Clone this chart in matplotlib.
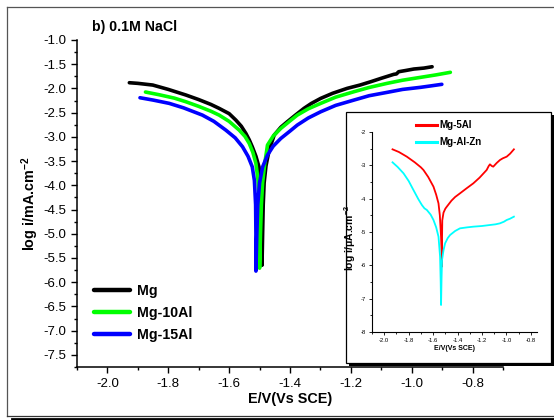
import numpy as np
import matplotlib
matplotlib.use('Agg')
import matplotlib.pyplot as plt
from matplotlib.lines import Line2D
from matplotlib.patches import Rectangle
from matplotlib.ticker import MultipleLocator

plt.rcParams['font.family'] = ['Liberation Sans', 'DejaVu Sans']
plt.rcParams['axes.unicode_minus'] = False
plt.rcParams['mathtext.fontset'] = 'custom'
plt.rcParams['mathtext.bf'] = 'Liberation Sans:bold'
plt.rcParams['mathtext.rm'] = 'Liberation Sans'

# main plot data: E (V vs SCE), log i (mA/cm2)
mg_E = [-1.928, -1.90, -1.851, -1.80, -1.742, -1.70, -1.66, -1.633, -1.60, -1.578, -1.56,
        -1.545, -1.534, -1.524, -1.512, -1.502, -1.497, -1.494, -1.492, -1.492,
        -1.490, -1.488, -1.485, -1.479, -1.470, -1.462, -1.452, -1.43, -1.409, -1.38,
        -1.354, -1.33, -1.299, -1.26, -1.212, -1.17, -1.135, -1.10, -1.059, -1.05,
        -1.043, -1.02, -0.993, -0.96, -0.933]
mg_i = [-1.882, -1.895, -1.930, -2.02, -2.136, -2.23, -2.33, -2.411, -2.52, -2.653, -2.78,
        -2.928, -3.06, -3.204, -3.40, -3.618, -3.9, -4.3, -5.0, -5.65,
        -5.0, -4.4, -3.95, -3.6, -3.32, -3.15, -2.963, -2.80, -2.688, -2.54,
        -2.411, -2.31, -2.205, -2.10, -1.998, -1.93, -1.862, -1.79, -1.709, -1.70,
        -1.655, -1.63, -1.599, -1.58, -1.552]

mg10_E = [-1.875, -1.83, -1.78, -1.742, -1.70, -1.66, -1.633, -1.60, -1.567, -1.548, -1.534,
          -1.522, -1.512, -1.505, -1.501, -1.500, -1.500,
          -1.497, -1.494, -1.490, -1.483, -1.474, -1.455, -1.430, -1.40, -1.376, -1.34,
          -1.299, -1.25, -1.190, -1.14, -1.081, -1.03, -0.971, -0.92, -0.873]
mg10_i = [-2.074, -2.13, -2.20, -2.275, -2.37, -2.47, -2.550, -2.68, -2.860, -2.99, -3.134,
          -3.32, -3.548, -3.9, -4.4, -5.0, -5.71,
          -5.0, -4.4, -3.95, -3.55, -3.169, -2.98, -2.824, -2.67, -2.550, -2.42,
          -2.308, -2.18, -2.068, -1.98, -1.895, -1.83, -1.771, -1.72, -1.667]

mg15_E = [-1.893, -1.85, -1.797, -1.75, -1.688, -1.65, -1.611, -1.58, -1.556, -1.538, -1.524,
          -1.517, -1.513, -1.512, -1.512,
          -1.509, -1.506, -1.500, -1.490, -1.474, -1.455, -1.430, -1.40, -1.376, -1.34,
          -1.299, -1.25, -1.190, -1.14, -1.081, -1.03, -0.971, -0.94, -0.901]
mg15_i = [-2.192, -2.24, -2.308, -2.40, -2.550, -2.68, -2.860, -3.02, -3.204, -3.40, -3.618,
          -3.9, -4.4, -5.0, -5.77,
          -5.0, -4.4, -3.95, -3.62, -3.376, -3.19, -3.031, -2.88, -2.756, -2.61,
          -2.481, -2.35, -2.240, -2.15, -2.081, -2.02, -1.977, -1.95, -1.915]

# inset data: E (V vs SCE), log i (uA/cm2)
mg5_E = [-1.932, -1.88, -1.815, -1.75, -1.70, -1.679, -1.64, -1.597, -1.575, -1.556, -1.545,
         -1.535, -1.531, -1.529, -1.527, -1.525, -1.515, -1.50, -1.488, -1.45, -1.42, -1.380,
         -1.33, -1.271, -1.22, -1.162, -1.145, -1.135, -1.12, -1.108, -1.08, -1.053, -1.03,
         -0.998, -0.97, -0.939]
mg5_i = [-2.52, -2.60, -2.74, -2.91, -3.06, -3.14, -3.35, -3.64, -3.88, -4.14, -4.5,
         -5.14, -5.6, -6.04, -5.2, -4.65, -4.42, -4.30, -4.24, -4.06, -3.95, -3.84,
         -3.70, -3.54, -3.37, -3.14, -3.02, -2.97, -3.02, -3.04, -2.93, -2.84, -2.79,
         -2.74, -2.65, -2.52]

alzn_E = [-1.932, -1.89, -1.842, -1.80, -1.761, -1.72, -1.692, -1.671, -1.651, -1.62, -1.597,
          -1.575, -1.556, -1.543, -1.538, -1.535, -1.531, -1.527, -1.515, -1.502, -1.48,
          -1.461, -1.42, -1.380, -1.32, -1.271, -1.20, -1.135, -1.09, -1.053, -1.02, -0.998,
          -0.97, -0.939]
alzn_i = [-2.91, -3.05, -3.24, -3.47, -3.74, -4.02, -4.19, -4.29, -4.34, -4.48, -4.64,
          -4.86, -5.14, -5.74, -6.5, -7.19, -6.4, -5.84, -5.55, -5.34, -5.18,
          -5.09, -4.97, -4.89, -4.86, -4.84, -4.82, -4.79, -4.77, -4.74, -4.69, -4.64,
          -4.60, -4.54]

W, H = 554, 420
fig = plt.figure(figsize=(W / 100, H / 100), dpi=100)


def fx(x):
    return x / W


def fy(y):
    return 1 - y / H


# outer frame
fig.add_artist(Line2D([fx(7), fx(7)], [fy(7), fy(416)], color='#555555', lw=0.9))
fig.add_artist(Line2D([fx(7), fx(560)], [fy(7), fy(7)], color='#555555', lw=0.9))
fig.add_artist(Line2D([fx(7), fx(560)], [fy(416), fy(416)], color='#333333', lw=0.9))
fig.add_artist(Line2D([fx(12), fx(560)], [fy(418.5), fy(418.5)], color='black', lw=2))

# main axes
ax = fig.add_axes([fx(77), fy(367), fx(426), (367 - 40) / H])
ax.plot(mg_E, mg_i, color='black', lw=2.6, label='Mg', solid_capstyle='round')
ax.plot(mg10_E, mg10_i, color='#00ff00', lw=2.6, label='Mg-10Al', solid_capstyle='round')
ax.plot(mg15_E, mg15_i, color='#0000ff', lw=2.6, label='Mg-15Al', solid_capstyle='round')
ax.set_xlim(-2.1, -0.7)
ax.set_ylim(-7.75, -1.0)
ax.xaxis.set_major_locator(MultipleLocator(0.2))
ax.xaxis.set_minor_locator(MultipleLocator(0.1))
ax.yaxis.set_major_locator(MultipleLocator(0.5))
ax.yaxis.set_minor_locator(MultipleLocator(0.25))
ax.xaxis.set_major_formatter(lambda v, p: f'{v:.1f}')
ax.yaxis.set_major_formatter(lambda v, p: f'{v:.1f}')
for s in ['top', 'right']:
    ax.spines[s].set_visible(False)
for s in ['left', 'bottom']:
    ax.spines[s].set_linewidth(1.1)
ax.tick_params(which='major', direction='out', length=4, width=1, labelsize=9.5, pad=4)
ax.tick_params(which='minor', direction='out', length=2.5, width=1)
ax.set_xlabel('E/V(Vs SCE)', fontsize=10.4, fontweight='bold', labelpad=1)
ax.set_ylabel(r'log i/mA.cm$^{\mathbf{-2}}$', fontsize=10.4, fontweight='bold', labelpad=1)
ax.text(fx(92), fy(27), 'b) 0.1M NaCl', transform=fig.transFigure, fontsize=10.2,
        fontweight='bold', va='center', ha='left')
leg = ax.legend(loc='upper left', bbox_to_anchor=((94 - 77) / 426, (367 - 284) / 327),
                frameon=False, borderpad=0, borderaxespad=0, handlelength=2.55,
                handletextpad=0.5, labelspacing=0.55, prop={'weight': 'bold', 'size': 10.2})
for l in leg.get_lines():
    l.set_linewidth(3.2)

# inset frame with shadow
fig.add_artist(Rectangle((fx(349), fy(366)), fx(205), 251 / H, transform=fig.transFigure,
                         facecolor='black', edgecolor='black', lw=0, zorder=3))
fig.add_artist(Rectangle((fx(346), fy(363)), fx(205), 251 / H, transform=fig.transFigure,
                         facecolor='white', edgecolor='black', lw=0.9, zorder=3.1))

# inset axes
ins = fig.add_axes([fx(372), fy(332), fx(165), (332 - 132) / H], zorder=5)
ins.patch.set_alpha(0)
ins.plot(mg5_E, mg5_i, color='#ff0000', lw=1.3, label='Mg-5Al')
ins.plot(alzn_E, alzn_i, color='#00ffff', lw=1.3, label='Mg-Al-Zn')
ins.set_xlim(-2.1, -0.75)
ins.set_ylim(-8, -2)
ins.xaxis.set_major_locator(MultipleLocator(0.2))
ins.xaxis.set_minor_locator(MultipleLocator(0.1))
ins.yaxis.set_major_locator(MultipleLocator(1))
ins.yaxis.set_minor_locator(MultipleLocator(0.5))
ins.xaxis.set_major_formatter(lambda v, p: f'{v:.1f}')
ins.yaxis.set_major_formatter(lambda v, p: f'{v:.0f}')
for s in ['top', 'right']:
    ins.spines[s].set_visible(False)
for s in ['left', 'bottom']:
    ins.spines[s].set_linewidth(0.8)
ins.tick_params(which='major', direction='out', length=2, width=0.6, labelsize=4.2, pad=2)
ins.tick_params(which='minor', direction='out', length=1.2, width=0.6)
ins.set_xlabel('E/V(Vs SCE)', fontsize=5, fontweight='bold', labelpad=2)
ins.set_ylabel(r'log i/$\mathbf{\mu}$A.cm$^{\mathbf{-2}}$', fontsize=7.5, fontweight='bold',
               labelpad=1)
ins.yaxis.set_label_coords(-0.085, 0.47)
ileg = ins.legend(loc='upper left', bbox_to_anchor=((416 - 372) / 165, (332 - 120) / 200),
                  frameon=False, borderpad=0, borderaxespad=0, handlelength=2.2,
                  handletextpad=0.2, labelspacing=0.75, prop={'weight': 'bold', 'size': 7})
for l in ileg.get_lines():
    l.set_linewidth(2.2)

fig.savefig('out.png', dpi=100)
